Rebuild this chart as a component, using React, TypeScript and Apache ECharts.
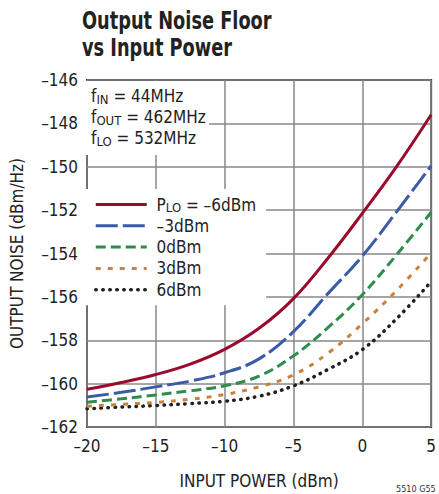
import React, { useEffect, useRef } from "react";
import * as echarts from "echarts";

const inputPower = [-20, -17.5, -15, -12.5, -10, -7.5, -5, -2.5, 0, 2.5, 5];
const plo_m6 = [-160.26, -159.95, -159.58, -159.1, -158.42, -157.45, -156.08, -154.22, -152.15, -149.98, -147.6];
const plo_m3 = [-160.62, -160.4, -160.15, -159.88, -159.5, -158.86, -157.6, -155.85, -154.12, -152.07, -149.95];
const plo_0 = [-160.86, -160.7, -160.52, -160.33, -160.1, -159.65, -158.72, -157.42, -155.9, -154.05, -152.1];
const plo_3 = [-161.04, -160.96, -160.87, -160.72, -160.5, -160.15, -159.6, -158.6, -157.24, -155.7, -153.98];
const plo_6 = [-161.16, -161.08, -161.01, -160.92, -160.81, -160.58, -160.1, -159.35, -158.43, -157.0, -155.3];

const seriesNames = ["P_LO = –6dBm", "–3dBm", "0dBm", "3dBm", "6dBm"];
const seriesData = [plo_m6, plo_m3, plo_0, plo_3, plo_6];
const seriesColors = ["#9a0a2c", "#3b5ba9", "#2e8c4c", "#c8823c", "#1f1f1f"];
const seriesDash: any[] = ["solid", [22, 5], [10, 5], [5, 7], [0.5, 6.5]];
const seriesCap = ["butt", "butt", "butt", "butt", "round"];
const seriesWidth = [3, 3, 3, 3, 3.5];

const FONT = "'Liberation Sans Narrow', 'DejaVu Sans Condensed', 'Liberation Sans', sans-serif";
const fmt = (v: number) => (v < 0 ? "–" + Math.abs(v) : String(v));

export default function App() {
  const ref = useRef<HTMLDivElement>(null);
  useEffect(() => {
    if (!ref.current) return;
    const chart = echarts.init(ref.current, null, { renderer: "svg" });
    const option: any = {
      animation: false,
      backgroundColor: "#fff",
      grid: {
        left: 81, top: 80, width: 352, height: 351,
        show: true, borderColor: "#333", borderWidth: 2, backgroundColor: "transparent",
      },
      legend: {
        orient: "vertical",
        left: 82,
        top: 189,
        width: 178,
        padding: [6, 10, 6, 12],
        backgroundColor: "#fff",
        itemWidth: 51,
        itemHeight: 14,
        itemGap: 2.3,
        itemStyle: { opacity: 0, borderWidth: 0, color: "transparent" },
        lineStyle: { width: "inherit" },
        data: seriesNames,
        textStyle: {
          fontFamily: FONT, fontSize: 17, color: "#222", lineHeight: 19,
          rich: {
            a: { fontFamily: FONT, fontSize: 17, color: "#222", lineHeight: 19 },
            s: { fontFamily: FONT, fontSize: 13, color: "#222", lineHeight: 13, verticalAlign: "bottom", padding: [6, 0, 0, 0] },
          },
        },
        formatter: (name: string) => {
          if (name.startsWith("P_LO")) return "{a| P}{s|LO}{a| = –6dBm}";
          return "{a| " + name + "}";
        },
      },
      xAxis: {
        type: "value",
        min: -20, max: 5, interval: 5,
        name: "INPUT POWER (dBm)",
        nameLocation: "middle",
        nameGap: 45,
        nameTextStyle: { fontFamily: FONT, fontSize: 17, color: "#222" },
        axisLine: { show: false },
        axisTick: { show: false },
        axisLabel: { formatter: fmt, fontFamily: FONT, fontSize: 17, color: "#222", margin: 10 },
        splitLine: { show: true, lineStyle: { color: "#888", width: 1.5 } },
      },
      yAxis: {
        type: "value",
        min: -162, max: -146, interval: 2,
        name: "OUTPUT NOISE (dBm/Hz)",
        nameLocation: "middle",
        nameGap: 62,
        nameTextStyle: { fontFamily: FONT, fontSize: 17, color: "#222" },
        axisLine: { show: false },
        axisTick: { show: false },
        axisLabel: { formatter: fmt, fontFamily: FONT, fontSize: 17, color: "#222", margin: 9 },
        splitLine: { show: true, lineStyle: { color: "#888", width: 1.5 } },
      },
      graphic: [
        {
          type: "text",
          z: 11,
          x: 82,
          y: 7,
          scaleX: 0.79,
          style: {
            text: "Output Noise Floor\nvs Input Power",
            fill: "#222",
            font: "bold 25px " + FONT,
            lineHeight: 27,
          },
        },
        {
          type: "rect",
          z: 10,
          shape: { x: 82, y: 81, width: 127, height: 74 },
          style: { fill: "#fff" },
        },
        {
          type: "text",
          z: 11,
          left: 91,
          top: 85,
          style: {
            text: "{a|f}{s|IN}{a| = 44MHz}\n{a|f}{s|OUT}{a| = 462MHz}\n{a|f}{s|LO}{a| = 532MHz}",
            fill: "#222",
            font: "17px " + FONT,
            lineHeight: 21,
            rich: {
              a: { fontFamily: FONT, fontSize: 17, fill: "#222", lineHeight: 21 },
              s: { fontFamily: FONT, fontSize: 13, fill: "#222", verticalAlign: "bottom", lineHeight: 21, padding: [7, 0, 0, 0] },
            },
          },
        },
        {
          type: "text",
          z: 11,
          left: 396,
          top: 484,
          style: { text: "5510 G55", fill: "#333", font: "9px " + FONT },
        },
      ],
      series: seriesData.map((d, i) => ({
        name: seriesNames[i],
        type: "line",
        smooth: 0.4,
        showSymbol: false,
        symbol: "none",
        data: inputPower.map((x, j) => [x, d[j]]),
        lineStyle: { color: seriesColors[i], width: seriesWidth[i], type: seriesDash[i], cap: seriesCap[i] },
        itemStyle: { color: seriesColors[i] },
        z: 5 - i + 2,
      })),
    };
    chart.setOption(option);
    return () => chart.dispose();
  }, []);
  return <div ref={ref} style={{ position: "fixed", left: 0, top: 0, width: 439, height: 494 }} />;
}
